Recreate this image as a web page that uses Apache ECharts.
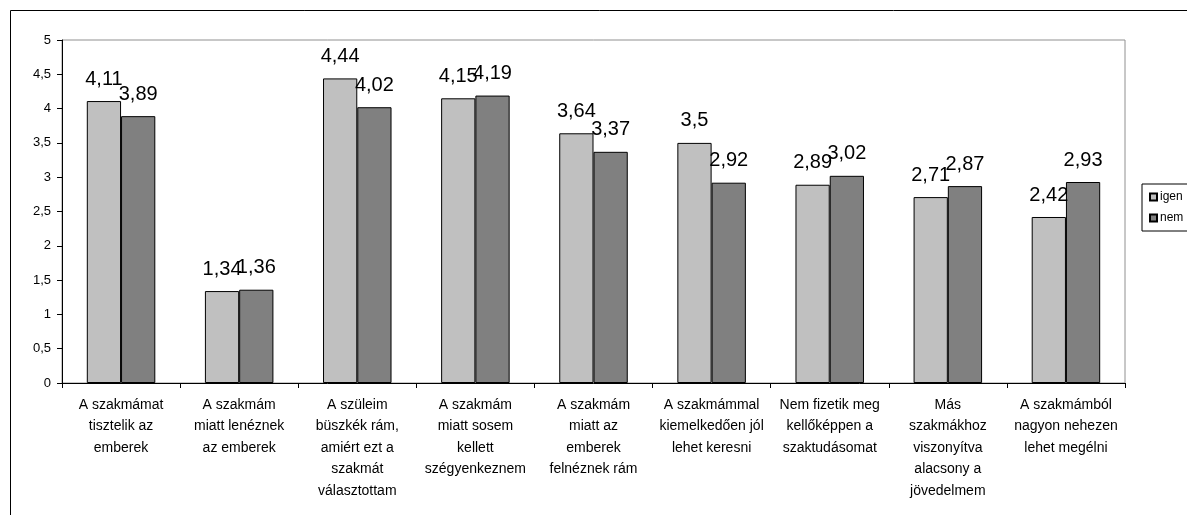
<!DOCTYPE html>
<html>
<head>
<meta charset="utf-8">
<script src="https://cdn.jsdelivr.net/npm/echarts@6/dist/echarts.min.js"></script>
<style>
  html, body { margin: 0; padding: 0; background: #fff; }
  #chart { width: 1187px; height: 515px; }
</style>
</head>
<body>
<div id="chart"></div>
<script>
// Survey statements (category axis), with the original line breaks
const categories = [
  'A szakmámat\ntisztelik az\nemberek',
  'A szakmám\nmiatt lenéznek\naz emberek',
  'A szüleim\nbüszkék rám,\namiért ezt a\nszakmát\nválasztottam',
  'A szakmám\nmiatt sosem\nkellett\nszégyenkeznem',
  'A szakmám\nmiatt az\nemberek\nfelnéznek rám',
  'A szakmámmal\nkiemelkedően jól\nlehet keresni',
  'Nem fizetik meg\nkellőképpen a\nszaktudásomat',
  'Más\nszakmákhoz\nviszonyítva\nalacsony a\njövedelmem',
  'A szakmámból\nnagyon nehezen\nlehet megélni'
];

// Mean scores per answer group
const igenValues = [4.11, 1.34, 4.44, 4.15, 3.64, 3.5, 2.89, 2.71, 2.42];
const nemValues  = [3.89, 1.36, 4.02, 4.19, 3.37, 2.92, 3.02, 2.87, 2.93];

const seriesNames = ['igen', 'nem'];

const FONT = '"Liberation Sans", Arial, sans-serif';
const comma = v => String(v).replace('.', ',');

const chart = echarts.init(document.getElementById('chart'), null, { renderer: 'canvas' });

const barLabel = {
  show: true,
  position: 'top',
  distance: 12,
  color: '#000',
  fontFamily: FONT,
  fontSize: 20,
  formatter: p => comma(p.value)
};

chart.setOption({
  animation: false,
  backgroundColor: '#fff',
  graphic: [{
    type: 'rect',
    shape: { x: 10.5, y: 10.5, width: 1300, height: 600 },
    style: { fill: 'none', stroke: '#000', lineWidth: 1 },
    silent: true
  }],
  legend: {
    orient: 'vertical',
    left: 1142,
    top: 184,
    data: seriesNames,
    itemWidth: 7,
    itemHeight: 7,
    itemGap: 9,
    padding: [7, 40, 7, 7],
    borderColor: '#000',
    borderWidth: 1,
    textStyle: { fontFamily: FONT, fontSize: 12, color: '#000', padding: [0, 0, 0, -2] },
    icon: 'rect'
  },
  grid: {
    left: 62,
    right: 62,
    top: 40,
    bottom: 132,
    show: true,
    borderColor: '#909090',
    borderWidth: 1,
    containLabel: false
  },
  xAxis: {
    type: 'category',
    data: categories,
    axisLine: { lineStyle: { color: '#000', width: 1 } },
    axisTick: { show: true, length: 5, lineStyle: { color: '#000' } },
    axisLabel: {
      interval: 0,
      color: '#000',
      fontFamily: FONT,
      fontSize: 14,
      lineHeight: 21.5,
      margin: 11
    }
  },
  yAxis: {
    type: 'value',
    min: 0,
    max: 5,
    interval: 0.5,
    splitLine: { show: false },
    axisLine: { show: true, lineStyle: { color: '#000', width: 1 } },
    axisTick: { show: true, length: 5, lineStyle: { color: '#000' } },
    axisLabel: {
      color: '#000',
      fontFamily: FONT,
      fontSize: 13,
      margin: 11,
      formatter: v => comma(v)
    }
  },
  series: [
    {
      name: seriesNames[0],
      type: 'bar',
      data: igenValues,
      barGap: '0%',
      barCategoryGap: '42%',
      itemStyle: { color: '#C0C0C0', borderColor: '#000', borderWidth: 1 },
      label: barLabel
    },
    {
      name: seriesNames[1],
      type: 'bar',
      data: nemValues,
      barGap: '0%',
      barCategoryGap: '42%',
      itemStyle: { color: '#808080', borderColor: '#000', borderWidth: 1 },
      label: barLabel
    }
  ]
});
</script>
</body>
</html>
